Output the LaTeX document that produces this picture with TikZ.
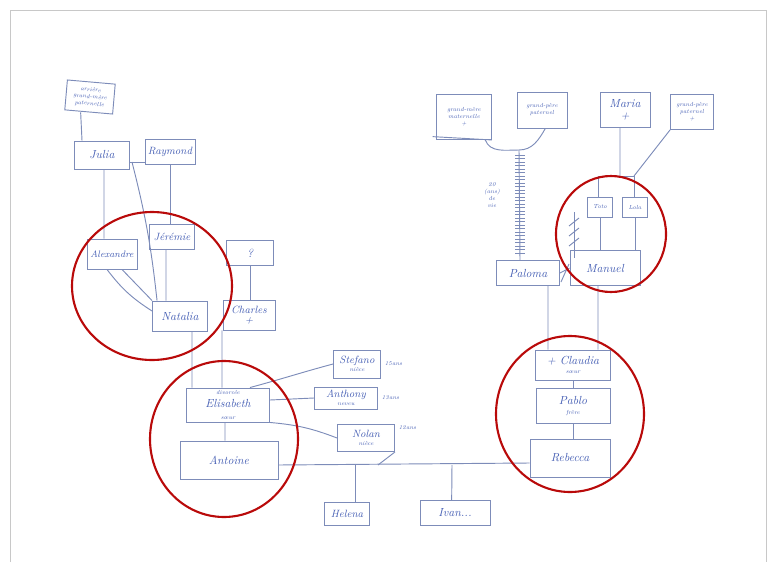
\documentclass[tikz,border=0pt]{standalone}
\usepackage{tikz}
\usepackage{xcolor}
\usetikzlibrary{positioning}
\definecolor{inktext}{RGB}{70,95,180}
\definecolor{inkline}{RGB}{125,140,185}
\definecolor{ringred}{RGB}{185,10,10}
\definecolor{framegray}{RGB}{200,200,200}
\begin{document}
\begin{tikzpicture}[x=0.3mm, y=-0.3mm, line width=0.8pt,
                ink/.style={draw=inkline},
                person/.style={ink, rectangle, inner sep=1pt, text=inktext, font=\itshape\normalsize, align=center},
                box/.style 2 args={minimum width=#1*0.3mm, minimum height=#2*0.3mm},
                note/.style={person, font=\itshape\tiny},
                side/.style={text=inktext, font=\itshape\tiny, inner sep=1pt},
                ring/.style={draw=ringred, line width=1.8pt}]

      \useasboundingbox (0,0) rectangle (767,562);
      \draw[framegray, line width=0.6pt] (10,562) -- (10,10) -- (766,10) -- (766,562);

      \node[note, box={48}{30}, rotate=-5] (ancestor) at (90,97) {arrière\\grand-mère\\paternelle};
      \node[person, box={55}{28}] (julia) at (102,155) {Julia};
      \node[person, box={50}{25}, font=\itshape\small] (raymond) at (170,152) {Raymond};
      \node[person, box={50}{30}, font=\itshape\footnotesize] (alexandre) at (112,254) {Alexandre};
      \node[person, box={45}{25}, font=\itshape\small] (jeremie) at (172,237) {Jérémie};
      \node[person, box={55}{30}] (natalia) at (180,316) {Natalia};
      \node[person, box={47}{25}] (unknown) at (250,253) {?};
      \node[person, box={52}{30}, font=\itshape\small] (charles) at (249,315) {Charles\\[-3pt]+};
      \node[person, box={83}{34}] (elisabeth) at (228,405) {{\tiny divorcée}\\[-1pt]\normalsize Elisabeth\\[-2pt]{\tiny sœur}};
      \node[person, box={98}{38}] (antoine) at (229,460) {Antoine};
      \node[person, box={47}{28}, font=\itshape\small] (stefano) at (357,364) {Stefano\\[-4pt]{\tiny nièce}};
      \node[person, box={63}{22}, font=\itshape\small] (anthony) at (346,398) {Anthony\\[-4pt]{\tiny neveu}};
      \node[person, box={57}{27}, font=\itshape\small] (nolan) at (366,438) {Nolan\\[-4pt]{\tiny nièce}};
      \node[side, right=2pt of stefano] (stefanoage) {15ans};
      \node[side, right=2pt of anthony] (anthonyage) {13ans};
      \node[side, right=2pt of nolan.north east, anchor=north west] (nolanage) {12ans};
      \node[person, box={45}{23}, font=\itshape\small] (helena) at (347,514) {Helena};
      \node[person, box={70}{25}] (ivan) at (455,513) {Ivan...};

      \node[note, box={55}{45}] (grandmere) at (464,117) {grand-mère\\maternelle\\+};
      \node[note, box={50}{36}] (grandpere) at (542,110) {grand-père\\paternel};
      \node[person, box={50}{35}] (maria) at (625,110) {Maria\\[-2pt]+};
      \node[note, box={43}{35}] (grandpereb) at (692,112) {grand-père\\paternel\\+};
      \node[side, align=center] (railnote) at (492,195) {20\\(ans)\\de\\vie};
      \node[person, box={25}{20}, font=\itshape\tiny] (toto) at (600,207) {Toto};
      \node[person, box={25}{20}, font=\itshape\tiny] (lola) at (635,207) {Lola};
      \node[person, box={63}{25}] (paloma) at (528,273) {Paloma};
      \node[person, box={70}{35}] (manuel) at (605,268) {Manuel};
      \node[person, box={75}{30}] (claudia) at (573,365) {+ Claudia\\[-4pt]{\tiny sœur}};
      \node[person, box={74}{35}] (pablo) at (573,406) {Pablo\\[-4pt]{\tiny frère}};
      \node[person, box={80}{38}] (rebecca) at (570,458) {Rebecca};

      \coordinate (jr) at (132,162);
      \coordinate (brace) at (519,150);
      \coordinate (mariafork) at (620,176);
      \coordinate (totofork) at (598,176);
      \coordinate (lolafork) at (634,176);
      \coordinate (splittop) at (574,212);
      \coordinate (splitbot) at (574,258);
      \coordinate (helenafork) at (355,465);
      \coordinate (ivanfork) at (452,465);
      \coordinate (nolanfoot) at (378,465);

      \draw[ink] ([xshift=-2.4mm]ancestor.south) -- ([xshift=-6mm]julia.north);
      \draw[ink] (julia.east |- jr) -- (raymond.west |- jr);
      \draw[ink] ([xshift=0.6mm]julia.south) -- ([xshift=-2.4mm]alexandre.north);
      \draw[ink] (jr) to[bend left=4] ([xshift=1.5mm]natalia.north west);
      \draw[ink] (raymond.south) -- (raymond.south |- jeremie.north);
      \draw[ink] ([xshift=-1.8mm]jeremie.south) -- ([xshift=-4.2mm]natalia.north);
      \draw[ink] ([xshift=-1.5mm]alexandre.south) to[bend right=10] ([yshift=1.5mm]natalia.west);
      \draw[ink] ([xshift=3mm]alexandre.south) -- (natalia.north west);
      \draw[ink] (unknown.south) -- (unknown.south |- charles.north);
      \draw[ink] ([xshift=3.6mm]natalia.south) -- ([xshift=-10.8mm]elisabeth.north);
      \draw[ink] ([xshift=-8.1mm]charles.south) -- ([xshift=-1.8mm]elisabeth.north);
      \draw[ink] ([xshift=-0.9mm]elisabeth.south) -- ([xshift=-1.2mm]antoine.north);
      \draw[ink] ([xshift=-6mm]elisabeth.north east) to[out=15,in=195] (stefano.west);
      \draw[ink] ([yshift=1.5mm]elisabeth.east) -- (anthony.west);
      \draw[ink] (elisabeth.south east) to[bend left=8] (nolan.west);
      \draw[ink] (nolan.south east) -- (nolanfoot);
      \draw[ink] ([yshift=-1.5mm]antoine.east) -- ([yshift=-1.5mm]rebecca.west);
      \draw[ink] (helenafork) -- (helenafork |- helena.north);
      \draw[ink] (ivanfork) -- ([xshift=-1mm]ivan.north);

      \draw[ink] (grandmere.south west) ++(-1mm,1mm) -- (grandmere.south east);
      \draw[ink] ([xshift=-2mm]grandmere.south east) to[out=-70,in=180] (brace) to[out=0,in=-120] ([xshift=1mm]grandpere.south);
      \draw[ink] (brace) -- ([xshift=-2.4mm]paloma.north);
      \foreach \ty in {155,158.5,...,256}
        \draw[ink, line width=0.6pt] (515,\ty) -- (525,\ty);
      \draw[ink] ([xshift=-1.5mm]maria.south) -- (mariafork);
      \draw[ink] (totofork) -- (lolafork);
      \draw[ink] (totofork) -- (totofork |- toto.north);
      \draw[ink] (lolafork) -- (lolafork |- lola.north);
      \draw[ink] (grandpereb.south west) -- (lolafork);
      \draw[ink] (toto.south) -- (toto.south |- manuel.north);
      \draw[ink] (lola.south) -- (lola.south |- manuel.north);
      \draw[ink] (splittop) -- (splitbot);
      \foreach \ty in {222,232,242}
        \draw[ink] (569,\ty+4) -- (579,\ty-4);
      \draw[ink] (paloma.east) -- (manuel.west);
      \draw[ink] (561,282) -- (569,264);
      \draw[ink] ([xshift=6mm]paloma.south) -- ([xshift=-7.5mm]claudia.north);
      \draw[ink] ([xshift=-2.1mm]manuel.south) -- ([xshift=7.5mm]claudia.north);
      \draw[ink] (claudia.south) -- (pablo.north);
      \draw[ink] (pablo.south) -- (pablo.south |- rebecca.north);

      \draw[ring] (152,286) ellipse [x radius=24mm, y radius=22.2mm];
      \draw[ring] (224,439) ellipse [x radius=22.2mm, y radius=23.4mm];
      \draw[ring] (611,234) ellipse [x radius=16.5mm, y radius=17.4mm];
      \draw[ring] (570,414) ellipse [x radius=22.2mm, y radius=23.4mm];
  \end{tikzpicture}
\end{document}
